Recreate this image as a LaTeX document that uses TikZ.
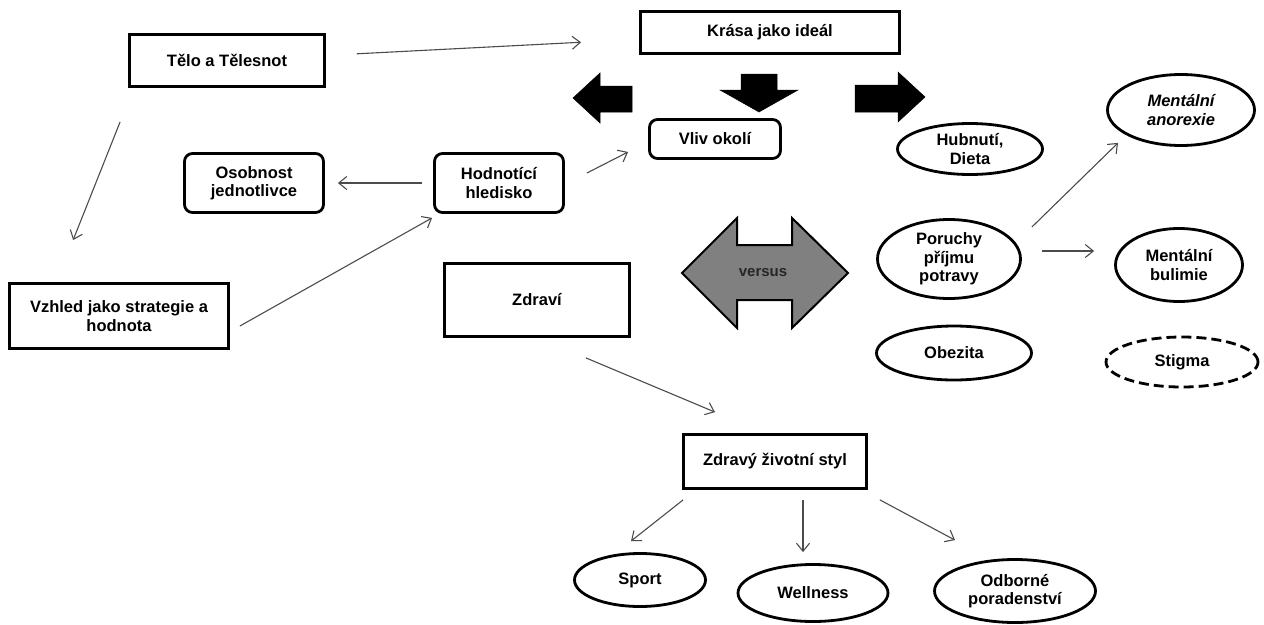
\documentclass[tikz,border=0pt]{standalone}
\usepackage{fontspec}
\setmainfont{Liberation Sans}
\usetikzlibrary{shapes.geometric,arrows.meta,calc}
\newcommand{\fsz}{\fontsize{16.5}{18.5}\selectfont}
\begin{document}
\begin{tikzpicture}[x=1pt,y=-1pt,
  box/.style={draw=black, line width=2.8pt, inner sep=0pt, font=\fsz\bfseries, align=center, text=black},
  rbox/.style={box, rounded corners=8pt},
  ell/.style={draw=black, ellipse, line width=2.8pt, inner sep=0pt},
  etxt/.style={font=\fsz\bfseries, align=center, text=black},
  conn/.style={draw=black!70, line width=1.1pt, -{Straight Barb[length=8pt,width=13pt,line width=1.1pt]}},
  bigarrow/.style={fill=black, draw=black, line width=0.5pt}]
\useasboundingbox (0,0) rectangle (1264,624);
\fill[white] (0,0) rectangle (1264,624);

% boxes
\node[box, minimum width=195pt, minimum height=52pt] (telo) at (227,60.5) {Tělo a Tělesnot};
\node[box, minimum width=259pt, minimum height=42pt] (krasa) at (770,32.5) {Krása jako ideál};
\node[rbox, minimum width=131pt, minimum height=39pt] (vliv) at (715,139) {Vliv okolí};
\node[rbox, minimum width=139pt, minimum height=59pt] (osob) at (254,183) {Osobnost\\jednotlivce};
\node[rbox, minimum width=129pt, minimum height=59pt] (hodn) at (499,183) {Hodnotící\\hledisko};
\node[box, minimum width=219pt, minimum height=65pt] (vzhled) at (119,316) {Vzhled jako strategie a\\hodnota};
\node[box, minimum width=185pt, minimum height=73pt] (zdravi) at (537,300) {Zdraví};
\node[box, minimum width=183pt, minimum height=54pt] (zstyl) at (775,461.5) {Zdravý životní styl};

% ellipses
\node[ell, minimum width=145pt, minimum height=51pt, label={[etxt]center:Hubnutí,\\Dieta}] (hub) at (970,149) {};
\node[ell, minimum width=147pt, minimum height=71pt, label={[etxt, font=\fsz\bfseries\itshape]center:Mentální\\anorexie}] (anor) at (1181,110) {};
\node[ell, minimum width=143pt, minimum height=79pt, label={[etxt]center:Poruchy\\příjmu\\potravy}] (poru) at (949,259) {};
\node[ell, minimum width=127pt, minimum height=73pt, label={[etxt]center:Mentální\\bulimie}] (buli) at (1179,265) {};
\node[ell, minimum width=155pt, minimum height=54pt, label={[etxt]center:Obezita}] (obez) at (954,353) {};
\node[ell, dashed, dash pattern=on 10pt off 5pt, minimum width=152pt, minimum height=50pt, label={[etxt]center:Stigma}] (stig) at (1182,362) {};
\node[ell, minimum width=131pt, minimum height=53pt, label={[etxt]center:Sport}] (sport) at (640,580) {};
\node[ell, minimum width=150pt, minimum height=57pt, label={[etxt]center:Wellness}] (well) at (813,593) {};
\node[ell, minimum width=161pt, minimum height=63pt, label={[etxt]center:Odborné\\poradenství}] (odb) at (1015,591) {};

% versus double arrow
\path[fill=black!50, draw=black, line width=2pt, line join=miter]
  (682,273) -- (737,218) -- (737,245) -- (792,245) -- (792,218) -- (848,273)
  -- (792,328) -- (792,300) -- (737,300) -- (737,328) -- cycle;
\node[font=\fontsize{15}{17}\selectfont\bfseries, text=black!85] (versus) at (763,273) {versus};

% big black arrows
\path[bigarrow] (573,98) -- (600,73) -- (600,86) -- (632,86) -- (632,112) -- (600,112) -- (600,123) -- cycle;
\path[bigarrow] (741,74) -- (777,74) -- (777,90) -- (798,90) -- (759,112) -- (720,90) -- (741,90) -- cycle;
\path[bigarrow] (855,85) -- (898,85) -- (898,72) -- (925,97) -- (898,122) -- (898,112) -- (855,112) -- cycle;

% connectors
\draw[conn] ($(telo)!0.239!(krasa)$) -- ($(telo)!0.652!(krasa)$);
\draw[conn] ([xshift=-8pt,yshift=-34pt]telo.south west) -- ([xshift=65pt,yshift=42pt]vzhled.north west);
\draw[conn] ([xshift=10pt,yshift=-10pt]vzhled.east) -- ([xshift=-1pt,yshift=-4pt]hodn.south west);
\draw[conn] ([xshift=-11pt]hodn.west) -- ([xshift=13pt]osob.east);
\draw[conn] ([xshift=22pt,yshift=10pt]hodn.east) -- ([xshift=-20pt,yshift=-13pt]vliv.west);
\draw[conn] ([xshift=-45pt,yshift=-20pt]zdravi.south east) -- ([xshift=-60pt,yshift=21pt]zstyl.north);
\draw[conn] ([xshift=1pt,yshift=-10pt]zstyl.south west) -- ([xshift=-9pt,yshift=11pt]sport.north);
\draw[conn] ([xshift=28pt,yshift=-10pt]zstyl.south) -- ([xshift=-10pt,yshift=11pt]well.north);
\draw[conn] ([xshift=12pt,yshift=-10pt]zstyl.south east) -- ([xshift=-60pt,yshift=18pt]odb.north);
\draw[conn] ([xshift=10pt,yshift=32pt]poru.east) -- ([xshift=-63pt,yshift=4pt]anor.south);
\draw[conn] ([xshift=20pt,yshift=8pt]poru.east) -- ([xshift=-20pt,yshift=14pt]buli.west);
\end{tikzpicture}
\end{document}
